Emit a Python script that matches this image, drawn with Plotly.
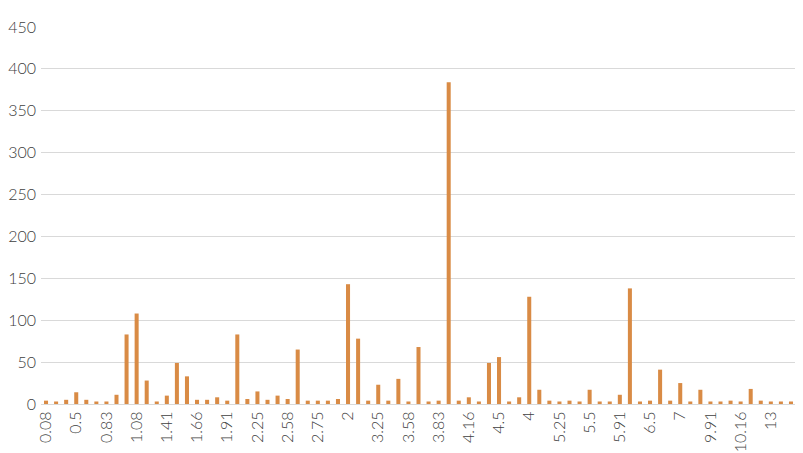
import plotly.graph_objects as go

# Bar values in order (75 bars)
values = [4, 3, 5, 14, 5, 3, 3, 11, 83, 108, 28, 3, 10,
          49, 33, 5, 5, 8, 4, 83, 6, 15, 5, 10, 6,
          65, 4, 4, 4, 6, 143, 78, 4, 23, 4, 30, 3, 68,
          3, 4, 384, 4, 8, 3, 49, 56, 3, 8, 128, 17,
          4, 3, 4, 3, 17, 3, 3, 11, 138, 3, 4, 41,
          4, 25, 3, 17, 3, 3, 4, 3, 18, 4, 3, 3, 3]

# Tick labels shown on every third bar
tick_labels = ["0.08", "0.5", "0.83", "1.08", "1.41", "1.66", "1.91", "2.25",
               "2.58", "2.75", "2", "3.25", "3.58", "3.83", "4.16", "4.5", "4",
               "5.25", "5.5", "5.91", "6.5", "7", "9.91", "10.16", "13"]

positions = list(range(len(values)))
tick_positions = positions[::3][:len(tick_labels)]

fig = go.Figure(go.Bar(
    x=positions, y=values,
    marker=dict(color="#D98B45", line=dict(width=0)),
))

# page body adds an 8px offset, so the figure is sized to fit the window
fig.update_layout(
    width=795, height=445,
    margin=dict(l=33, r=7, t=19, b=49),
    paper_bgcolor="white", plot_bgcolor="white",
    bargap=0.6,
    showlegend=False,
    font=dict(family="Lato", size=16, color="#404040", weight=300),
)
fig.update_xaxes(
    tickmode="array", tickvals=tick_positions, ticktext=tick_labels,
    tickangle=-90, range=[-0.5, len(values) - 0.5],
    showgrid=False, showline=True, linecolor="#d9d9d9", linewidth=1,
    ticks="", automargin=False,
    tickfont=dict(family="Lato", size=16, color="#404040", weight=300),
)
fig.update_yaxes(
    range=[0, 450], dtick=50, showgrid=True, gridcolor="#d9d9d9", gridwidth=1,
    zeroline=False, showline=False, ticks="", ticklabelstandoff=4,
    automargin=False,
    tickfont=dict(family="Lato", size=16, color="#404040", weight=300),
)

fig.write_html("out.html")
